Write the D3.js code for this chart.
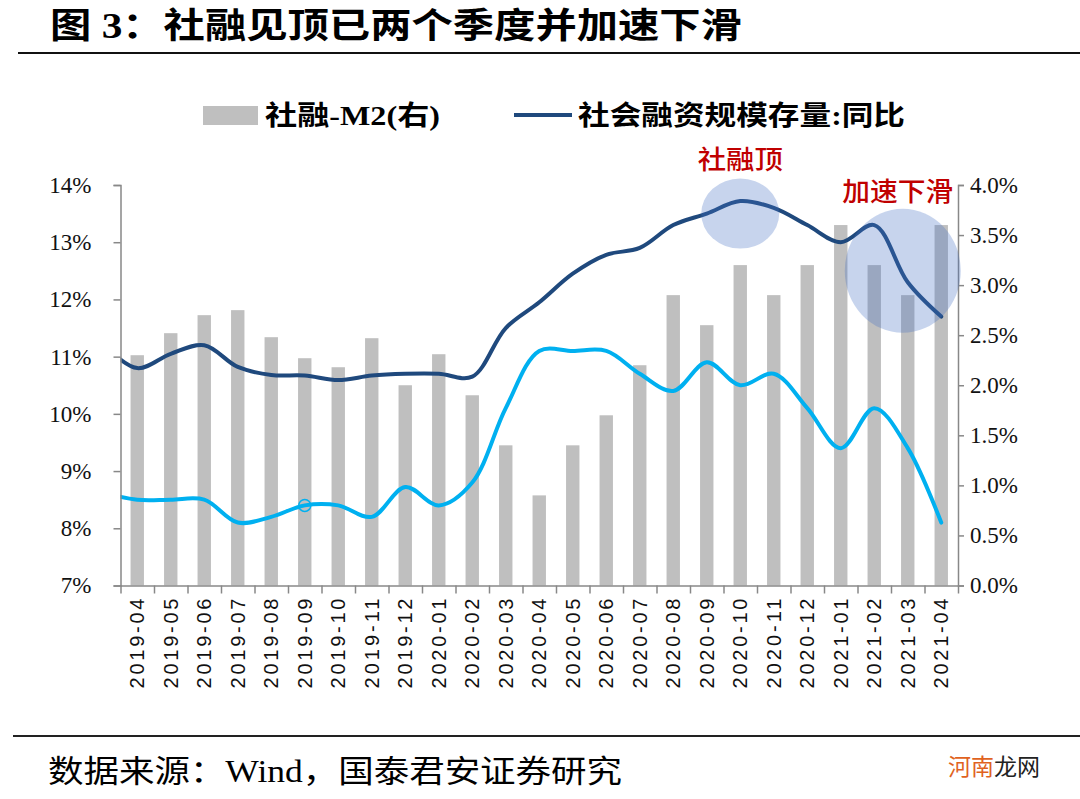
<!DOCTYPE html>
<html><head><meta charset="utf-8">
<script src="https://cdn.jsdelivr.net/npm/d3@7"></script>
<style>
body{margin:0;background:#fff;}
svg{display:block;}
</style></head>
<body>
<svg id="chart" width="1080" height="799"></svg>
<script>
// ---- data ----
const categories = ["2019-04","2019-05","2019-06","2019-07","2019-08","2019-09","2019-10","2019-11","2019-12","2020-01","2020-02","2020-03","2020-04","2020-05","2020-06","2020-07","2020-08","2020-09","2020-10","2020-11","2020-12","2021-01","2021-02","2021-03","2021-04"];
// lines also carry the preceding month (2019-03), clipped at the plot edge
const lineCategories = ["2019-03"].concat(categories);
const spread = [2.3,2.52,2.7,2.75,2.48,2.27,2.18,2.47,2.0,2.31,1.9,1.4,0.9,1.4,1.7,2.2,2.9,2.6,3.2,2.9,3.2,3.6,3.2,2.9,3.6]; // 社融-M2 (right axis, %)
const tsfYoY = [11.2,10.8,11.05,11.2,10.82,10.68,10.67,10.59,10.67,10.7,10.7,10.65,11.5,11.95,12.45,12.78,12.9,13.3,13.5,13.72,13.6,13.3,13.0,13.3,12.3,11.7]; // 社会融资规模存量:同比
const m2YoY = [8.62,8.5,8.5,8.5,8.1,8.2,8.4,8.4,8.2,8.72,8.4,8.8,10.1,11.1,11.1,11.1,10.7,10.4,10.9,10.5,10.7,10.1,9.4,10.1,9.4,8.1]; // M2 同比
const leftTicks = [7,8,9,10,11,12,13,14];
const rightTicks = [0,0.5,1,1.5,2,2.5,3,3.5,4];
const markerCategory = "2019-09";
const annotations = [
  {text:"社融顶", cat:"2020-10", val:13.5, rx:39, ry:35, dx:0, labelDx:0, labelDy:-45, labelLen:85},
  {text:"加速下滑", cat:"2021-03", val:12.5, rx:58, ry:62, dx:-5, labelDx:-5, labelDy:-70, labelLen:111}
];
const titleText = "图 3：社融见顶已两个季度并加速下滑";
const sourceText = "数据来源：Wind，国泰君安证券研究";
const legendBar = "社融-M2(右)";
const legendLine = "社会融资规模存量:同比";

// ---- layout ----
const svg = d3.select("#chart");
const L = 120.5, R = 958, T = 185, B = 585.5;
const serif = "'Liberation Serif','Times New Roman','Noto Sans CJK SC',serif";
const cjk = "'Liberation Serif','Noto Sans CJK SC',serif";

const x = d3.scaleBand().domain(categories).range([L,R]).paddingInner(0.6).paddingOuter(0.3);
const step = x.step();
const xl = d3.scalePoint().domain(lineCategories)
  .range([x(categories[0]) + x.bandwidth()/2 - step, x(categories[categories.length-1]) + x.bandwidth()/2]);
const yL = d3.scaleLinear().domain([7,14]).range([B,T]);
const yR = d3.scaleLinear().domain([0,4]).range([B,T]);

// title
svg.append("text").attr("x",50).attr("y",38).attr("font-family",cjk).attr("font-weight","bold")
  .attr("font-size",35).attr("textLength",692).attr("lengthAdjust","spacingAndGlyphs").text(titleText);
svg.append("line").attr("x1",18).attr("x2",1080).attr("y1",53).attr("y2",53).attr("stroke","#111").attr("stroke-width",2.2);

// legend
svg.append("rect").attr("x",203).attr("y",106).attr("width",55).attr("height",19).attr("fill","#BFBFBF");
svg.append("text").attr("x",265).attr("y",125).attr("font-family",cjk).attr("font-weight","bold")
  .attr("font-size",27).attr("textLength",175).attr("lengthAdjust","spacingAndGlyphs").text(legendBar);
svg.append("line").attr("x1",514).attr("x2",572).attr("y1",115).attr("y2",115).attr("stroke","#1F497D").attr("stroke-width",4);
svg.append("text").attr("x",578).attr("y",125).attr("font-family",cjk).attr("font-weight","bold")
  .attr("font-size",27).attr("textLength",327).attr("lengthAdjust","spacingAndGlyphs").text(legendLine);

// bars
svg.append("g").selectAll("rect").data(categories).join("rect")
  .attr("x",d=>x(d)).attr("width",x.bandwidth())
  .attr("y",(d,i)=>yR(spread[i])).attr("height",(d,i)=>B-yR(spread[i]))
  .attr("fill","#BFBFBF");

// clip
svg.append("clipPath").attr("id","plotclip").append("rect").attr("x",L).attr("y",0).attr("width",R-L+10).attr("height",B);

const line = d3.line().x(d=>xl(d[0])).y(d=>yL(d[1])).curve(d3.curveCatmullRom.alpha(0.5));
const gl = svg.append("g").attr("clip-path","url(#plotclip)");
gl.append("path").datum(lineCategories.map((c,i)=>[c,m2YoY[i]])).attr("d",line)
  .attr("fill","none").attr("stroke","#00B0F0").attr("stroke-width",4).attr("stroke-linejoin","round").attr("stroke-linecap","round");
gl.append("path").datum(lineCategories.map((c,i)=>[c,tsfYoY[i]])).attr("d",line)
  .attr("fill","none").attr("stroke","#1F497D").attr("stroke-width",4).attr("stroke-linejoin","round").attr("stroke-linecap","round");
// marker
const mi = lineCategories.indexOf(markerCategory);
svg.append("circle").attr("cx",xl(markerCategory)).attr("cy",yL(m2YoY[mi])).attr("r",6)
  .attr("fill","none").attr("stroke","#00B0F0").attr("stroke-width",1.5);

// axes
const axisColor = "#888";
const gLeft = svg.append("g").attr("transform",`translate(${L},0)`)
  .call(d3.axisLeft(yL).tickValues(leftTicks).tickFormat(d=>d+"%").tickSize(7).tickPadding(22));
const gRight = svg.append("g").attr("transform",`translate(${R},0)`)
  .call(d3.axisRight(yR).tickValues(rightTicks).tickFormat(d=>d3.format(".1f")(d)+"%").tickSize(6).tickPadding(6));
[gLeft,gRight].forEach(g=>{
  g.select(".domain").attr("stroke",axisColor).attr("stroke-width",1.5);
  g.selectAll(".tick line").attr("stroke",axisColor).attr("stroke-width",1.5);
  g.selectAll("text").attr("font-family",serif).attr("font-size",23).attr("fill","#111");
});
gLeft.selectAll(".tick text").attr("text-anchor","end");

// bottom axis: boundary ticks
const xb = d3.scaleLinear().domain([0,categories.length]).range([L,R]);
const gBot = svg.append("g").attr("transform",`translate(0,${B})`)
  .call(d3.axisBottom(xb).tickValues(d3.range(categories.length+1)).tickFormat("").tickSize(8).tickSizeOuter(0));
gBot.select(".domain").attr("stroke",axisColor).attr("stroke-width",1.5);
gBot.selectAll(".tick line").attr("stroke",axisColor).attr("stroke-width",1.5);
// category labels
const gLab = svg.append("g").attr("transform",`translate(0,${B})`)
  .call(d3.axisBottom(x).tickSize(0).tickPadding(0));
gLab.select(".domain").remove();
gLab.selectAll(".tick text").attr("font-family","'Liberation Sans',Arial,sans-serif").attr("font-size",20).attr("fill","#111")
  .attr("transform","rotate(-90)").attr("text-anchor","end").attr("x",-13).attr("y",0).attr("dy","0.36em")
  .attr("textLength",90).attr("lengthAdjust","spacing");

// annotations
const ga = svg.append("g");
annotations.forEach(a=>{
  const cx = x(a.cat)+x.bandwidth()/2 + a.dx, cy = yL(a.val);
  ga.append("ellipse").attr("cx",cx).attr("cy",cy).attr("rx",a.rx).attr("ry",a.ry)
    .attr("fill","#4472C4").attr("fill-opacity",0.3);
  ga.append("text").attr("x",cx + a.labelDx - a.labelLen/2).attr("y",cy+a.labelDy)
    .attr("font-family","'Noto Sans CJK SC',sans-serif").attr("font-weight",500)
    .attr("font-size",26).attr("fill","#C00000")
    .attr("textLength",a.labelLen).attr("lengthAdjust","spacingAndGlyphs").text(a.text);
});

// footer
svg.append("line").attr("x1",13).attr("x2",1080).attr("y1",736).attr("y2",736).attr("stroke","#222").attr("stroke-width",2);
svg.append("text").attr("x",48).attr("y",782).attr("font-family",cjk).attr("font-size",31)
  .attr("textLength",574).attr("lengthAdjust","spacingAndGlyphs").text(sourceText);
const wm = svg.append("text").attr("x",948).attr("y",775).attr("font-family","'Noto Sans CJK SC',sans-serif").attr("font-size",23);
wm.append("tspan").attr("fill","#E0621E").text("河南");
wm.append("tspan").attr("fill","#222").text("龙网");
</script>
</body></html>
